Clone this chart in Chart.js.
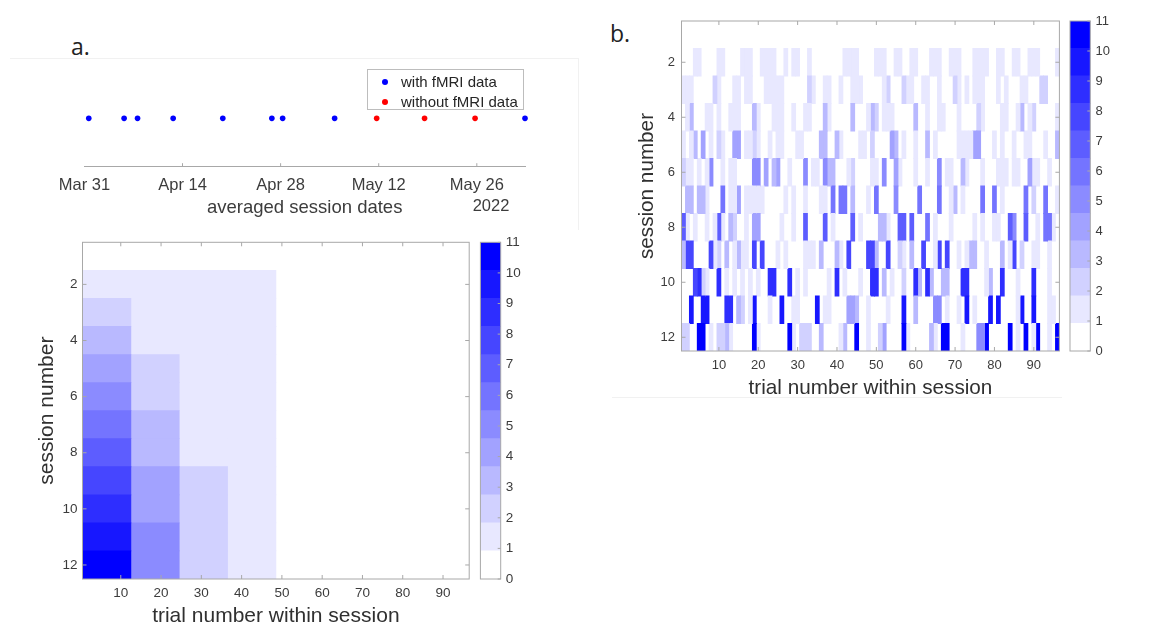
<!DOCTYPE html>
<html>
<head>
<meta charset="utf-8">
<script src="https://cdn.jsdelivr.net/npm/chart.js@4.4.1/dist/chart.umd.min.js"></script>
<style>
  body { margin: 0; width: 1151px; height: 625px; overflow: hidden; background: #fff; position: relative;
         font-family: "Liberation Sans", Arial, sans-serif; }
  canvas { position: absolute; }
  .panel { position: absolute; font-family: "Open Sans", sans-serif; font-size: 23px; line-height: 1; color: #222; }
  .frame { position: absolute; background: #f1f1f1; }
  #legend { position: absolute; left: 367px; top: 69px; width: 157px; height: 41px; box-sizing: border-box;
            border: 1px solid #bdbdbd; background: #fff; font-size: 15px; color: #262626; }
  #legend .item { position: absolute; left: 0; height: 18px; line-height: 18px; white-space: nowrap; }
  #legend .dot { position: absolute; left: 14px; top: 6px; width: 6px; height: 6px; border-radius: 50%; }
  #legend .txt { position: absolute; left: 33px; top: 0; }
</style>
</head>
<body>
<div class="frame" style="left:10px;top:58px;width:568px;height:1px"></div>
<div class="frame" style="left:578px;top:58px;width:1px;height:172px"></div>
<div class="frame" style="left:612px;top:397px;width:450px;height:1px"></div>

<div class="panel" style="left:71px;top:35px">a.</div>
<div class="panel" style="left:610px;top:22px">b.</div>

<canvas id="timeline" width="580" height="235" style="left:0;top:0"></canvas>
<div id="legend"></div>
<canvas id="heatA" width="475" height="410" style="left:0;top:225px"></canvas>
<canvas id="barA" width="60" height="370" style="left:470px;top:225px"></canvas>
<canvas id="heatB" width="465" height="410" style="left:600px;top:0"></canvas>
<canvas id="barB" width="91" height="370" style="left:1060px;top:0"></canvas>

<script>
// ---- session dates (panel a, top) ----
const axisStart = "2022-03-31T00:00:00Z";
const sessionDates = [
  "2022-03-31T15:00:00Z", "2022-04-05T16:00:00Z", "2022-04-07T14:00:00Z", "2022-04-12T16:00:00Z",
  "2022-04-19T18:00:00Z", "2022-04-26T18:00:00Z", "2022-04-28T07:00:00Z", "2022-05-05T17:00:00Z",
  "2022-05-11T17:00:00Z", "2022-05-18T13:00:00Z", "2022-05-25T18:00:00Z", "2022-06-01T21:00:00Z"
];
const sessionHasFmri = [true, true, true, true, true, true, true, true, false, false, false, true];
const dateTicks = ["2022-03-31T00:00:00Z", "2022-04-14T00:00:00Z", "2022-04-28T00:00:00Z",
                   "2022-05-12T00:00:00Z", "2022-05-26T00:00:00Z"];
const dateTickLabels = ["Mar 31", "Apr 14", "Apr 28", "May 12", "May 26"];
const yearLabel = "2022";

// ---- heatmaps ----
const sessionLabels = ["1", "2", "3", "4", "5", "6", "7", "8", "9", "10", "11", "12"];
const sessionTickLabels = ["2", "4", "6", "8", "10", "12"];
const trialTicks = [10, 20, 30, 40, 50, 60, 70, 80, 90];
const colorbarTicks = [0, 1, 2, 3, 4, 5, 6, 7, 8, 9, 10, 11];
const colorLevels = [0, 1, 2, 3, 4, 5, 6, 7, 8, 9, 10, 11];
const maxCount = 11;

// panel a: counts per block of 12 trials
const blockFirstTrial = [1, 13, 25, 37, 49, 61, 73, 85];
const blockLength = 12;
const blockCounts = [
  [0, 0, 0, 0, 0, 0, 0, 0],
  [1, 1, 1, 1, 0, 0, 0, 0],
  [2, 1, 1, 1, 0, 0, 0, 0],
  [3, 1, 1, 1, 0, 0, 0, 0],
  [4, 2, 1, 1, 0, 0, 0, 0],
  [5, 2, 1, 1, 0, 0, 0, 0],
  [6, 3, 1, 1, 0, 0, 0, 0],
  [7, 3, 1, 1, 0, 0, 0, 0],
  [8, 4, 2, 1, 0, 0, 0, 0],
  [9, 4, 2, 1, 0, 0, 0, 0],
  [10, 5, 2, 1, 0, 0, 0, 0],
  [11, 5, 2, 1, 0, 0, 0, 0]
];

// panel b: counts per trial (96 trials) for each session
const s1 = [0,0,0,0,0,0,0,0,0,0,0,0,0,0,0,0,0,0,0,0,0,0,0,0,
            0,0,0,0,0,0,0,0,0,0,0,0,0,0,0,0,0,0,0,0,0,0,0,0,
            0,0,0,0,0,0,0,0,0,0,0,0,0,0,0,0,0,0,0,0,0,0,0,0,
            0,0,0,0,0,0,0,0,0,0,0,0,0,0,0,0,0,0,0,0,0,0,0,0];
const s2 = [0,0,0,1,1,0,0,0,0,1,1,0,0,0,0,1,1,1,0,0,1,1,1,1,
            0,0,1,0,1,1,0,0,1,0,0,0,0,0,0,0,0,1,1,1,1,0,0,0,
            0,1,1,1,0,0,1,1,0,0,1,1,0,0,0,1,1,1,0,0,1,1,1,0,
            0,0,1,1,1,1,0,0,1,1,0,0,1,1,0,0,1,1,1,0,0,0,0,1];
const s3 = [1,1,1,0,0,0,0,0,2,1,0,0,0,1,1,0,1,1,0,0,0,1,1,1,
            1,1,0,0,0,0,0,0,2,1,0,0,1,1,0,0,1,0,0,1,1,1,0,0,
            0,0,0,1,2,0,0,0,2,1,1,0,0,1,1,0,0,1,0,0,0,2,1,0,
            1,0,1,1,1,0,0,0,1,0,1,0,0,0,1,1,0,0,0,2,2,0,0,0];
const s4 = [0,1,3,0,0,0,1,1,0,1,0,0,1,1,1,0,0,0,3,1,0,0,0,1,
            1,1,0,0,1,0,0,1,1,0,0,0,3,1,0,0,0,0,0,3,0,0,0,1,
            3,2,0,1,1,1,0,0,0,0,0,3,0,0,1,0,0,1,1,0,0,0,1,0,
            0,0,0,2,1,0,0,0,0,1,1,0,0,1,3,0,1,2,0,0,0,0,0,1];
const s5 = [1,0,1,3,0,4,0,1,0,2,1,0,0,4,4,0,1,1,2,1,0,0,1,0,
            1,1,0,0,0,1,1,0,0,0,0,3,3,0,0,3,1,0,0,0,0,1,1,0,
            2,0,0,0,0,4,3,0,1,0,0,1,0,0,3,0,1,0,0,0,0,0,1,1,
            1,1,4,4,0,0,0,1,0,1,0,0,1,0,0,1,1,0,0,0,1,0,0,3];
const s6 = [2,1,1,0,1,0,1,5,0,0,1,0,1,1,0,0,0,0,5,5,0,4,0,3,
            4,0,0,1,0,0,0,5,0,1,1,0,5,3,3,0,0,0,1,2,0,0,0,0,
            1,1,0,5,0,0,4,1,0,0,0,1,0,0,1,0,0,5,0,1,1,0,0,3,
            1,0,0,0,1,0,0,0,1,1,1,0,1,1,0,0,4,1,1,0,0,1,0,0];
const s7 = [0,3,3,0,3,3,1,0,0,0,6,0,1,1,4,0,1,1,1,1,1,0,0,0,
            0,0,1,0,1,0,0,1,0,0,0,1,1,0,6,0,6,6,0,3,0,0,0,1,
            0,6,0,0,0,0,5,0,0,0,0,0,6,0,0,0,0,6,0,0,1,3,0,1,
            0,0,0,0,6,0,0,6,0,1,0,0,0,0,0,6,0,2,0,0,6,0,0,1];
const s8 = [7,1,0,1,0,0,1,0,1,7,1,0,3,2,0,0,1,0,4,4,0,0,0,0,
            0,1,0,0,1,0,0,7,0,0,0,0,7,0,1,0,0,0,0,7,0,1,0,0,
            0,0,3,3,1,0,0,7,7,0,7,0,0,0,6,0,1,0,0,0,1,0,0,0,
            0,0,1,0,1,0,0,1,1,0,0,7,5,0,0,7,0,0,1,0,6,6,1,0];
const s9 = [3,8,8,0,0,0,0,8,1,2,0,3,0,1,3,1,1,0,8,0,8,0,0,0,
            1,0,1,0,0,0,0,1,1,1,0,3,0,0,0,3,1,0,8,0,0,0,0,8,
            8,3,0,0,8,0,0,2,1,0,3,0,0,8,0,0,1,8,0,8,0,0,1,0,
            1,3,3,0,0,1,0,0,0,3,0,1,8,0,2,0,0,1,1,0,0,1,0,0];
const s10 = [0,0,0,8,9,2,1,0,0,9,0,1,0,1,0,1,0,1,0,1,0,0,9,9,
             0,0,0,9,0,1,0,1,0,0,0,0,0,1,0,9,0,1,0,0,0,1,0,0,
             9,9,0,3,0,1,0,0,2,0,0,9,3,0,9,3,0,0,3,3,0,0,0,9,
             9,0,0,0,0,1,3,0,0,9,0,0,0,1,0,0,0,9,0,0,0,1,0,0];
const s11 = [0,0,10,0,0,10,10,0,0,0,0,9,9,0,3,2,0,1,10,0,0,0,1,0,
             0,10,0,0,1,1,0,0,0,0,10,0,1,1,0,0,0,0,4,4,3,0,0,1,
             0,0,0,0,1,0,0,0,10,0,0,3,0,0,0,0,5,5,0,1,0,0,1,0,
             10,0,1,0,0,0,10,0,10,0,0,0,0,1,10,0,0,10,0,0,0,1,1,0];
const s12 = [2,2,0,0,11,11,0,1,0,2,2,3,1,0,0,0,0,0,11,1,0,0,0,0,
             0,0,0,11,1,0,2,2,2,0,0,3,0,0,0,0,1,3,0,0,11,0,0,1,
             0,0,2,4,0,0,0,0,11,1,0,0,0,0,0,3,1,0,11,11,0,0,0,1,
             0,0,0,5,5,11,0,0,0,0,0,11,0,1,0,11,0,1,11,0,0,1,0,11];
const trialCounts = [s1, s2, s3, s4, s5, s6, s7, s8, s9, s10, s11, s12];

// ---- style ----
const textColor = "#3c3c3c";
const boxColor = "#a8a8a8";
Chart.defaults.font.family = '"Liberation Sans", Arial, sans-serif';
Chart.defaults.color = textColor;

function countColor(v) {
  const c = Math.round(255 * (1 - v / maxCount));
  return `rgb(${c},${c},255)`;
}
function dayOf(s) {
  return (Date.parse(s) - Date.parse(axisStart)) / 86400000;
}

// matlab style axes box with inward tick marks
const boxPlugin = {
  id: "matlabBox",
  afterDraw(chart, args, opts) {
    const { ctx, chartArea: a } = chart;
    ctx.save();
    ctx.strokeStyle = boxColor;
    ctx.lineWidth = 1;
    if (opts.box) ctx.strokeRect(a.left, a.top, a.right - a.left, a.bottom - a.top);
    const len = opts.len || 4;
    const line = (x1, y1, x2, y2) => { ctx.beginPath(); ctx.moveTo(x1, y1); ctx.lineTo(x2, y2); ctx.stroke(); };
    (opts.axes || []).forEach(id => {
      const sc = chart.scales[id];
      sc.ticks.forEach((t, i) => {
        if (t.label === "" || t.label === undefined) return;
        const p = sc.getPixelForTick(i);
        if (sc.isHorizontal()) {
          if (opts.skipEdge && (Math.abs(p - a.left) < 2 || Math.abs(p - a.right) < 2)) return;
          line(p, a.bottom, p, a.bottom - len);
          if (opts.mirror) line(p, a.top, p, a.top + len);
        } else {
          if (sc.position === "right") line(a.right, p, a.right - len, p);
          else line(a.left, p, a.left + len, p);
          if (opts.mirror) {
            if (sc.position === "right") line(a.left, p, a.left + len, p);
            else line(a.right, p, a.right - len, p);
          }
        }
      });
    });
    ctx.restore();
  }
};

const yearPlugin = {
  id: "yearLabel",
  afterDraw(chart, args, opts) {
    const { ctx, chartArea: a } = chart;
    ctx.save();
    ctx.font = `${opts.size}px "Liberation Sans", Arial, sans-serif`;
    ctx.fillStyle = textColor;
    ctx.textAlign = "center";
    ctx.textBaseline = "middle";
    ctx.fillText(opts.text, a.right - opts.dx, a.bottom + opts.dy);
    ctx.restore();
  }
};

// ---- panel a: timeline ----
const timeline = new Chart(document.getElementById("timeline"), {
  type: "scatter",
  data: {
    datasets: [
      {
        label: "with fMRI data",
        data: sessionDates.filter((d, i) => sessionHasFmri[i]).map(d => ({ x: dayOf(d), y: 1 })),
        backgroundColor: "#0000ff",
        pointRadius: 2.8,
        pointBorderWidth: 0,
        clip: false
      },
      {
        label: "without fMRI data",
        data: sessionDates.filter((d, i) => !sessionHasFmri[i]).map(d => ({ x: dayOf(d), y: 1 })),
        backgroundColor: "#ff0000",
        pointRadius: 2.8,
        pointBorderWidth: 0,
        clip: false
      }
    ]
  },
  options: {
    responsive: false,
    animation: false,
    events: [],
    layout: { padding: { left: 84.4, right: 55, top: 70, bottom: 8.3 } },
    plugins: {
      legend: { display: false },
      tooltip: { enabled: false },
      matlabBox: { axes: ["x"], len: 3.5, skipEdge: true },
      yearLabel: { text: yearLabel, size: 16.5, dx: 34, dy: 40 }
    },
    scales: {
      x: {
        type: "linear",
        min: 0,
        max: dayOf(sessionDates[sessionDates.length - 1]),
        afterBuildTicks: s => { s.ticks = dateTicks.map(d => ({ value: dayOf(d) })); },
        afterFit: s => { s.height = 60; },
        grid: { display: false, drawTicks: false },
        border: { display: true, color: boxColor, width: 1 },
        ticks: {
          autoSkip: false, maxRotation: 0, padding: 8.4, color: textColor, font: { size: 16.5 },
          callback: (v, i) => dateTickLabels[i]
        },
        title: {
          display: true, text: "averaged session dates", color: textColor,
          font: { size: 18.5 }, padding: { top: 0, bottom: 7.6 }
        }
      },
      y: { display: false, min: 0, max: 2 }
    }
  },
  plugins: [boxPlugin, yearPlugin]
});

// legend built from the chart datasets
const legendEl = document.getElementById("legend");
timeline.data.datasets.forEach((ds, i) => {
  const item = document.createElement("div");
  item.className = "item";
  item.style.top = (3 + i * 19.5) + "px";
  item.innerHTML = `<span class="dot" style="background:${ds.backgroundColor}"></span><span class="txt">${ds.label}</span>`;
  legendEl.appendChild(item);
});

// ---- heatmaps ----
function heatmap(id, datasets, o) {
  return new Chart(document.getElementById(id), {
    type: "bar",
    data: { labels: sessionLabels, datasets },
    options: {
      indexAxis: "y",
      responsive: false,
      animation: false,
      events: [],
      layout: { padding: o.padding },
      datasets: { bar: { grouped: false, barPercentage: 1, categoryPercentage: 1, borderWidth: 0, inflateAmount: 0.4 } },
      plugins: {
        legend: { display: false },
        tooltip: { enabled: false },
        matlabBox: { box: true, axes: ["x", "y"], mirror: true, len: 4 }
      },
      scales: {
        x: {
          type: "linear",
          min: 0.5,
          max: 96.5,
          afterBuildTicks: s => { s.ticks = trialTicks.map(v => ({ value: v })); },
          afterFit: s => { s.height = o.xHeight; },
          grid: { display: false, drawTicks: false },
          border: { display: false },
          ticks: { autoSkip: false, maxRotation: 0, padding: o.xPad, color: textColor, font: { size: o.tick } },
          title: {
            display: true, text: "trial number within session", color: "#303030",
            font: { size: o.label }, padding: { top: 0, bottom: o.xTitlePad }
          }
        },
        y: {
          type: "category",
          afterFit: s => { s.width = o.yWidth; },
          grid: { display: false, drawTicks: false },
          border: { display: false },
          ticks: {
            autoSkip: false, padding: o.yPad, color: textColor, font: { size: o.tick },
            callback: (v, i) => sessionTickLabels.includes(sessionLabels[i]) ? sessionLabels[i] : ""
          },
          title: {
            display: true, text: "session number", color: "#303030",
            font: { size: o.label }, padding: { top: o.yTitlePad, bottom: 0 }
          }
        }
      }
    },
    plugins: [boxPlugin]
  });
}

function colorbar(id, o) {
  return new Chart(document.getElementById(id), {
    type: "bar",
    data: {
      labels: ["count"],
      datasets: colorLevels.map(v => ({
        data: [maxCount / colorLevels.length],
        backgroundColor: countColor(v),
        stack: "cb"
      }))
    },
    options: {
      responsive: false,
      animation: false,
      events: [],
      layout: { padding: o.padding },
      datasets: { bar: { barPercentage: 1, categoryPercentage: 1, borderWidth: 0, inflateAmount: 0.4 } },
      plugins: {
        legend: { display: false },
        tooltip: { enabled: false },
        matlabBox: { box: true, axes: ["y"], len: 3 }
      },
      scales: {
        x: { display: false, stacked: true },
        y: {
          stacked: true,
          position: "right",
          min: 0,
          max: maxCount,
          afterBuildTicks: s => { s.ticks = colorbarTicks.map(v => ({ value: v })); },
          afterFit: s => { s.width = o.yWidth; },
          grid: { display: false, drawTicks: false },
          border: { display: false },
          ticks: { padding: o.yPad, color: textColor, font: { size: o.tick } }
        }
      }
    },
    plugins: [boxPlugin]
  });
}

// panel a bottom: block heatmap
const blockDatasets = blockFirstTrial.map((first, b) => ({
  label: "trials " + first + "-" + (first + blockLength - 1),
  data: blockCounts.map(row => row[b] ? [first - 0.5, first + blockLength - 0.5] : null),
  backgroundColor: blockCounts.map(row => countColor(row[b]))
}));
heatmap("heatA", blockDatasets, {
  padding: { left: 0, right: 5.8, top: 17.3, bottom: 0 },
  yWidth: 82.5, xHeight: 56, xPad: 6, yPad: 5.1, xTitlePad: 5.7, yTitlePad: 34.4,
  tick: 13.5, label: 21
});
colorbar("barA", { padding: { left: 10.4, right: 0, top: 17.3, bottom: 16 }, yWidth: 29.3, yPad: 5.1, tick: 13.5 });

// panel b: per-trial heatmap
const trialDatasets = s1.map((_, c) => ({
  label: "trial " + (c + 1),
  data: trialCounts.map(row => row[c] ? [c + 0.5, c + 1.5] : null),
  backgroundColor: trialCounts.map(row => countColor(row[c]))
}));
heatmap("heatB", trialDatasets, {
  padding: { left: 0, right: 5.6, top: 21, bottom: 3 },
  yWidth: 81.5, xHeight: 56, xPad: 6.2, yPad: 6.6, xTitlePad: 6.3, yTitlePad: 35.1,
  tick: 13, label: 20.7
});
colorbar("barB", { padding: { left: 10, right: 0, top: 21, bottom: 19 }, yWidth: 60.7, yPad: 5.3, tick: 13 });
</script>
</body>
</html>
